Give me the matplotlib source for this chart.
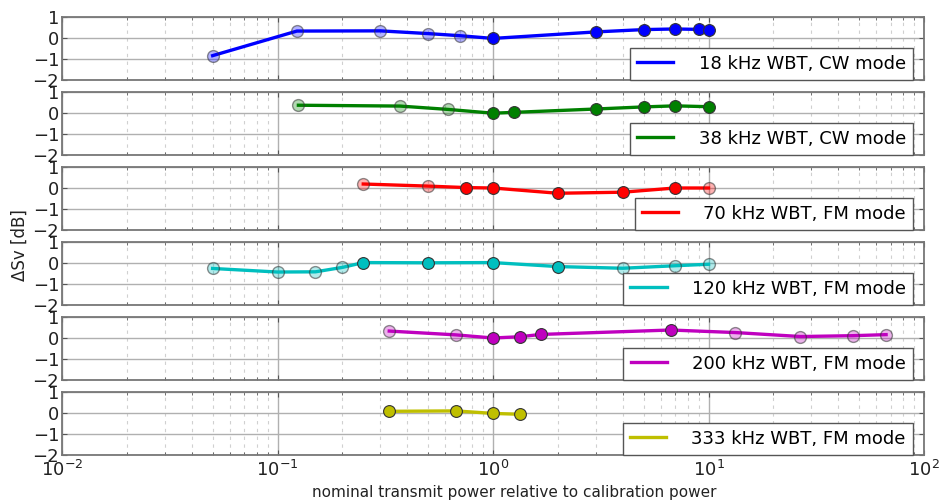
import matplotlib
matplotlib.use("Agg")
import matplotlib.pyplot as plt
from matplotlib.ticker import LogLocator, NullFormatter
import numpy as np

labels = ["18 kHz WBT, CW mode", "38 kHz WBT, CW mode", "70 kHz WBT, FM mode",
          "120 kHz WBT, FM mode", "200 kHz WBT, FM mode", "333 kHz WBT, FM mode"]
colors = ["#0000ff", "#008000", "#ff0000", "#00bfbf", "#bf00bf", "#bfbf00"]

x18 = [0.05, 0.123, 0.3, 0.5, 0.7, 1.0, 3.0, 5.0, 7.0, 9.0, 10.0]
y18 = [-0.84, 0.33, 0.34, 0.21, 0.11, -0.02, 0.29, 0.40, 0.43, 0.41, 0.40]
f18 = [1, 1, 1, 1, 1, 0, 0, 0, 0, 0, 0]

x38 = [0.125, 0.37, 0.62, 1.0, 1.25, 3.0, 5.0, 7.0, 10.0]
y38 = [0.37, 0.33, 0.17, -0.01, 0.03, 0.19, 0.29, 0.34, 0.30]
f38 = [1, 1, 1, 0, 0, 0, 0, 0, 0]

x70 = [0.25, 0.5, 0.75, 1.0, 2.0, 4.0, 7.0, 10.0]
y70 = [0.19, 0.09, 0.02, 0.0, -0.25, -0.20, 0.0, 0.0]
f70 = [1, 1, 0, 0, 0, 0, 0, 1]

x120 = [0.05, 0.1, 0.15, 0.2, 0.25, 0.5, 1.0, 2.0, 4.0, 7.0, 10.0]
y120 = [-0.26, -0.43, -0.42, -0.21, 0.02, 0.01, 0.02, -0.17, -0.25, -0.13, -0.06]
f120 = [1, 1, 1, 1, 0, 0, 0, 0, 1, 1, 1]

x200 = [0.33, 0.67, 1.0, 1.33, 1.67, 6.67, 13.3, 26.7, 46.7, 66.7]
y200 = [0.33, 0.15, 0.0, 0.06, 0.17, 0.38, 0.26, 0.07, 0.11, 0.16]
f200 = [1, 1, 0, 0, 0, 0, 1, 1, 1, 1]

x333 = [0.33, 0.67, 1.0, 1.33]
y333 = [0.08, 0.10, -0.02, -0.06]
f333 = [0, 0, 0, 0]

series = [(x18, y18, f18), (x38, y38, f38), (x70, y70, f70),
          (x120, y120, f120), (x200, y200, f200), (x333, y333, f333)]

yticks = [-2, -1, 0, 1]
xticks = [1e-2, 1e-1, 1e0, 1e1, 1e2]

W, H = 940, 500
fig = plt.figure(figsize=(W / 100, H / 100), dpi=100)
left, right = 62, 924
tops = [17, 92, 167, 242, 317, 392]
ph = 63
axes = []
for i, (xs, ys, fs) in enumerate(series):
    ax = fig.add_axes([left / W, 1 - (tops[i] + ph) / H, (right - left) / W, ph / H])
    axes.append(ax)
    ax.set_xscale("log")
    ax.set_xlim(1e-2, 1e2)
    ax.set_ylim(-2, 1)
    ax.set_yticks(yticks)
    ax.set_xticks(xticks)
    ax.xaxis.set_minor_locator(LogLocator(base=10, subs=np.arange(2, 10)))
    ax.xaxis.set_minor_formatter(NullFormatter())
    ax.grid(True, which="major", color="#b0b0b0", lw=1.0, ls="-")
    ax.grid(True, which="minor", axis="x", color="#d0d0d0", lw=0.8, ls=(0, (3, 4)))
    ax.set_axisbelow(True)
    for s in ax.spines.values():
        s.set_color("#777777")
        s.set_linewidth(1.3)
    ax.tick_params(axis="both", which="both", direction="in", colors="#555555",
                   labelcolor="#222222", labelsize=13)
    ax.tick_params(axis="x", which="both", top=True)
    ax.tick_params(axis="y", right=True, pad=2)
    c = colors[i]
    xs = np.array(xs); ys = np.array(ys); fs = np.array(fs, dtype=bool)
    ax.plot(xs, ys, color=c, lw=2.4, label=labels[i], zorder=3)
    ax.plot(xs[~fs], ys[~fs], ls="none", marker="o", ms=8.5, mfc=c,
            mec="#333333", mew=0.8, zorder=4)
    ax.plot(xs[fs], ys[fs], ls="none", marker="o", ms=8.5,
            mfc=matplotlib.colors.to_rgba(c, 0.3), mec=(0.2, 0.2, 0.2, 0.55),
            mew=1.0, zorder=4)
    leg = ax.legend(loc="lower right", bbox_to_anchor=(1 - 11 / (right - left), 0),
                    borderaxespad=0, fontsize=13, handlelength=2.0, fancybox=False,
                    framealpha=1, borderpad=0.4, handletextpad=1.4)
    leg.get_frame().set_edgecolor("#555555")
    leg.get_frame().set_linewidth(1.0)
    if i < 5:
        ax.tick_params(axis="x", labelbottom=False)
    else:
        ax.set_xticklabels([r"$10^{-2}$", r"$10^{-1}$", r"$10^{0}$", r"$10^{1}$", r"$10^{2}$"])
        ax.set_xlabel("nominal transmit power relative to calibration power",
                      fontsize=11, color="#222222")
        ax.xaxis.set_label_coords((514 - left) / (right - left), -0.47)

fig.text(20 / W, 1 - 245 / H, "ΔSv [dB]", rotation=90, va="center", ha="center",
         fontsize=12, color="#222222")

fig.savefig("out.png", dpi=100)
